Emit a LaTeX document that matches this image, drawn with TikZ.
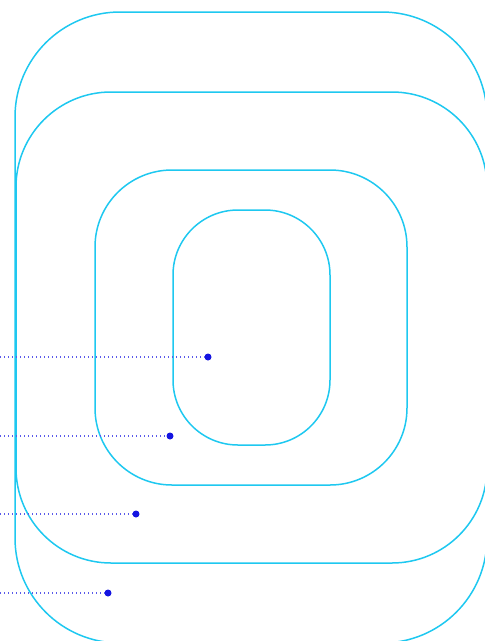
\documentclass[tikz,border=0pt]{standalone}
\begin{document}
\begin{tikzpicture}[x=1pt,y=-1pt,
  box/.style={draw=cyanline,line width=1.5pt,inner sep=0pt,outer sep=0pt},
  dotline/.style={draw=dotblue!70,line width=1.3pt,dash pattern=on 1.3pt off 2.7pt},
  pin/.style={circle,fill=dotblue,inner sep=0pt,minimum size=7pt}]
\definecolor{cyanline}{RGB}{30,200,240}
\definecolor{dotblue}{RGB}{20,20,225}
\useasboundingbox (0,0) rectangle (485,641);
\clip (0,0) rectangle (485,641);
\node[box,minimum width=472pt,minimum height=631pt,rounded corners=105pt] (b1) at (251,327.5) {};
\node[box,minimum width=471pt,minimum height=471pt,rounded corners=95pt] (b2) at (251.5,327.5) {};
\node[box,minimum width=312pt,minimum height=315pt,rounded corners=77pt] (b3) at (251,327.5) {};
\node[box,minimum width=157pt,minimum height=235pt,rounded corners=65pt] (b4) at (251.5,327.5) {};
\node[pin] (p1) at (208,357) {};
\node[pin] (p2) at (170,436) {};
\node[pin] (p3) at (136,514) {};
\node[pin] (p4) at (108,593) {};
\coordinate (s1) at (0,357);
\coordinate (s2) at (0,436);
\coordinate (s3) at (0,514);
\coordinate (s4) at (0,593);
\draw[dotline] (s1) -- (p1);
\draw[dotline] (s2) -- (p2);
\draw[dotline] (s3) -- (p3);
\draw[dotline] (s4) -- (p4);
\end{tikzpicture}
\end{document}
